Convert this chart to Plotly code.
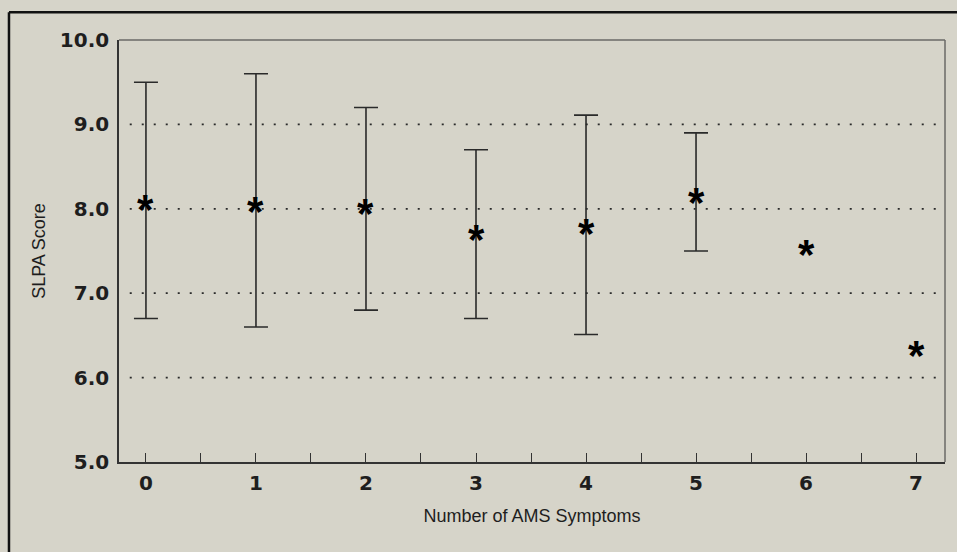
import plotly.graph_objects as go

symptoms = [0, 1, 2, 3, 4, 5, 6, 7]
mean_score = [8.06, 8.04, 8.02, 7.71, 7.78, 8.15, 7.53, 6.33]
# ranges (only for groups 0-5)
range_x = [0, 1, 2, 3, 4, 5]
upper = [9.50, 9.60, 9.20, 8.70, 9.11, 8.90]
lower = [6.70, 6.60, 6.80, 6.70, 6.51, 7.50]
y_ticks = [5, 6, 7, 8, 9, 10]
y_ticklabels = ["5.0", "6.0", "7.0", "8.0", "9.0", "10.0"]
grid_vals = [6, 7, 8, 9]

BG = "#d6d4c9"
INK = "#1e1e1e"
tickfont = dict(family="DejaVu Sans", size=20, color=INK, weight="bold")
titlefont = dict(family="Liberation Sans Narrow, Arial Narrow, Liberation Sans, sans-serif", size=18, color=INK)

fig = go.Figure()

rng_mean = [mean_score[symptoms.index(x)] for x in range_x]
fig.add_trace(go.Scatter(
    x=range_x, y=rng_mean, mode="markers",
    marker=dict(size=1, color="rgba(0,0,0,0)"),
    error_y=dict(type="data", symmetric=False,
                 array=[u - m for u, m in zip(upper, rng_mean)],
                 arrayminus=[m - l for m, l in zip(rng_mean, lower)],
                 color="#2a2a2a", thickness=1.6, width=12),
    hoverinfo="skip", showlegend=False,
))

annotations = []
for x, m in zip(symptoms, mean_score):
    annotations.append(dict(x=x, y=m, xref="x", yref="y", text="*", showarrow=False,
                            font=dict(family="Liberation Sans", size=42, color="#000", weight="bold"),
                            xanchor="center", yanchor="middle", yshift=-6))

shapes = []
for g in grid_vals:
    shapes.append(dict(type="line", xref="paper", yref="y", x0=0.013, x1=0.99, y0=g, y1=g,
                       line=dict(color="#2a2a2a", width=1.8, dash="2px,10px"), layer="below"))
# plot frame top and right (lighter)
shapes.append(dict(type="line", xref="paper", yref="paper", x0=0, x1=1, y0=1, y1=1,
                   line=dict(color="#6a6a66", width=1.5)))
shapes.append(dict(type="line", xref="paper", yref="paper", x0=1, x1=1, y0=0, y1=1,
                   line=dict(color="#6a6a66", width=1.5)))
# outer border (left and top)
shapes.append(dict(type="line", xref="paper", yref="paper", x0=-0.1332, x1=-0.1332, y0=-0.3, y1=1.066,
                   line=dict(color="#111", width=2.5)))
shapes.append(dict(type="line", xref="paper", yref="paper", x0=-0.1332, x1=1.05, y0=1.066, y1=1.066,
                   line=dict(color="#111", width=2.5)))

fig.update_layout(
    width=957, height=552,
    margin=dict(l=119, r=12, t=40, b=90),
    paper_bgcolor=BG, plot_bgcolor=BG,
    showlegend=False,
    annotations=annotations,
    shapes=shapes,
    xaxis=dict(range=[-0.245, 7.263], tickmode="array", tickvals=symptoms,
               ticktext=[str(s) for s in symptoms],
               ticks="inside", ticklen=9, tickwidth=1.3, tickcolor="#333",
               minor=dict(dtick=0.5, tick0=0, ticks="inside", ticklen=9, tickwidth=1.3, tickcolor="#333"),
               showline=True, linecolor="#333", linewidth=1.6, mirror=False,
               showgrid=False, zeroline=False, tickfont=tickfont, ticklabelstandoff=2,
               title=dict(text="Number of AMS Symptoms", font=titlefont, standoff=16)),
    yaxis=dict(range=[5, 10], tickmode="array", tickvals=y_ticks, ticktext=y_ticklabels,
               ticks="", showline=True, linecolor="#333", linewidth=1.6, mirror=False,
               showgrid=False, zeroline=False, tickfont=tickfont, ticklabelstandoff=4,
               title=dict(text="SLPA Score", font=titlefont, standoff=10)),
)

fig.write_html("out.html")
